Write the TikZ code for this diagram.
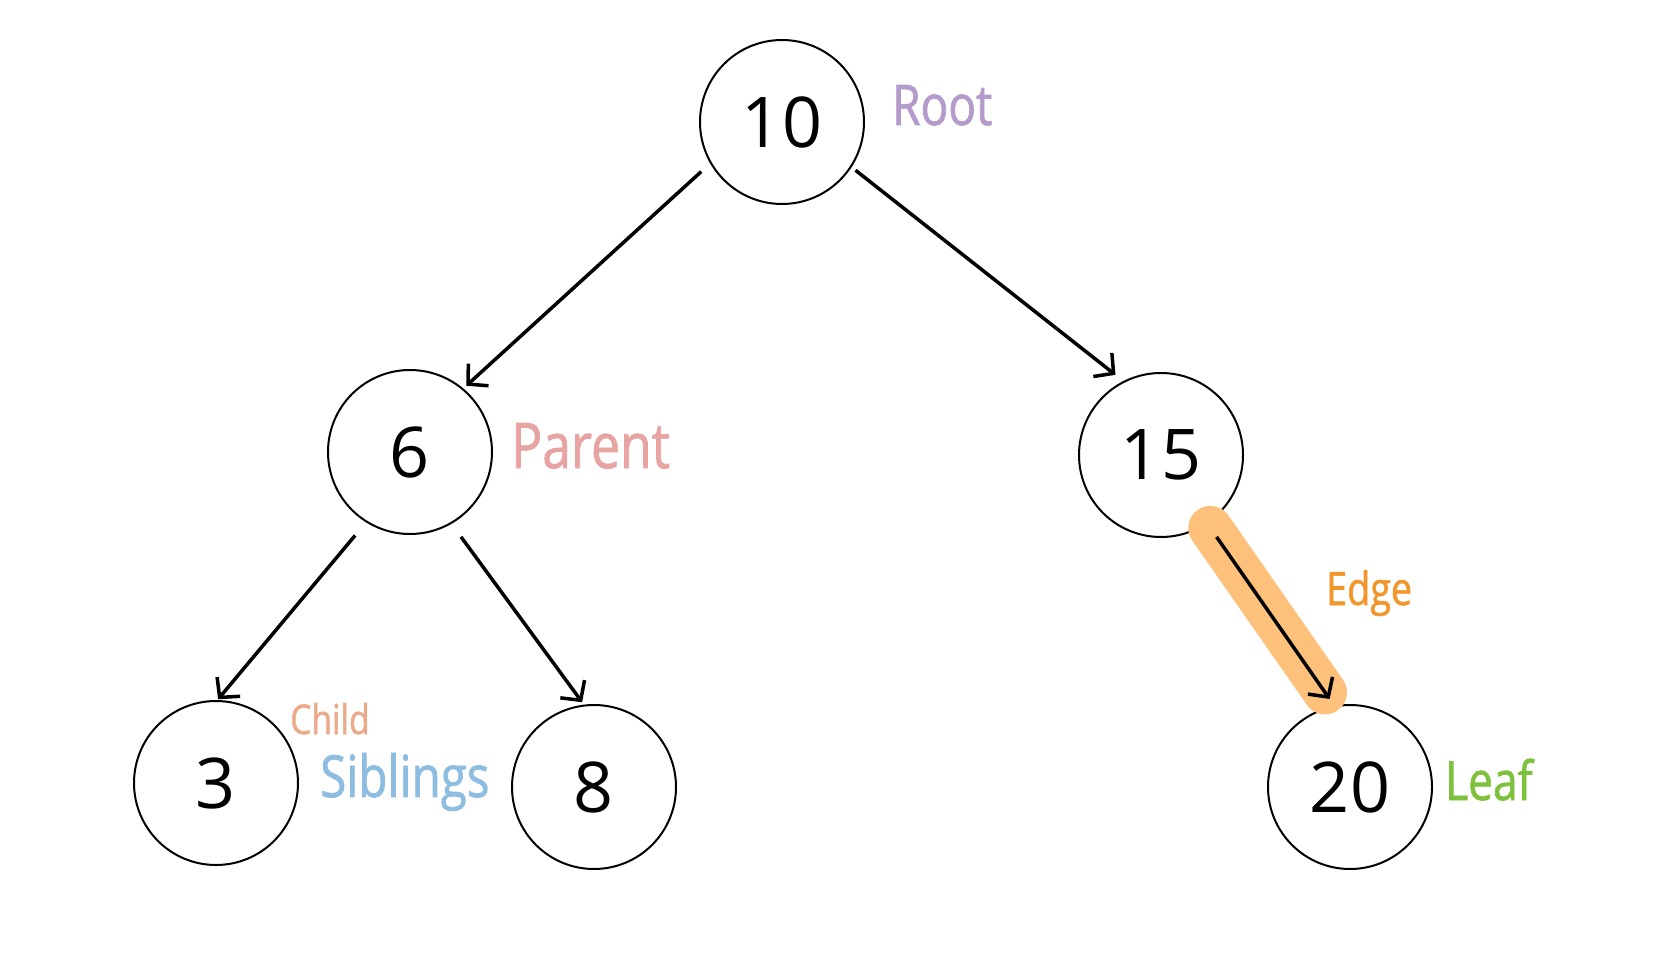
\documentclass[tikz,border=0pt]{standalone}
\usepackage{fontspec}
\setmainfont{Open Sans}
\newfontfamily\handfont[FakeStretch=0.82, FakeBold=1.2]{Open Sans}
\usetikzlibrary{arrows.meta}

\definecolor{rootc}{HTML}{B49BCB}
\definecolor{parentc}{HTML}{E8A3A3}
\definecolor{childc}{HTML}{EBAA8A}
\definecolor{sibc}{HTML}{8DBDE0}
\definecolor{edgec}{HTML}{F2962B}
\definecolor{leafc}{HTML}{7DC13C}
\definecolor{hlc}{HTML}{FDC17C}

\tikzset{
  tnode/.style={circle, draw, line width=2pt, minimum size=164pt, inner sep=0pt,
                font=\fontsize{70}{84}\selectfont},
  tedge/.style={line width=3.5pt,
                -{Straight Barb[length=14pt,width=30pt,line width=3.5pt]}},
  lbl/.style={anchor=base west, inner sep=0pt},
}

\begin{document}
\begin{tikzpicture}[x=1pt, y=-1pt]
  \useasboundingbox (0,0) rectangle (1667,973);

  % the tree
  \node[tnode] (n10) at (782,122) {10};
  \node[tnode] (n6)  at (410,452) {6};
  \node[tnode] (n15) at (1161,455) {15};
  \node[tnode] (n3)  at (216,783) {3};
  \node[tnode] (n8)  at (594,787) {8};
  \node[tnode] (n20) at (1350,787) {20};

  % highlight behind the marked edge
  \draw[hlc, line width=44pt, line cap=round, shorten <=5pt, shorten >=16pt]
    (n15.304) -- (n20.101);

  \draw[tedge, shorten <=12pt, shorten >=4pt] (n10.210) -- (n6.50);
  \draw[tedge, shorten <=5pt, shorten >=10pt] (n10.327) -- (n15.117);
  \draw[tedge, shorten <=17pt, shorten >=1pt] (n6.238) -- (n3.89);
  \draw[tedge, shorten <=16pt, shorten >=3pt] (n6.300) -- (n8.97);
  \draw[tedge, shorten <=16pt, shorten >=8pt] (n15.304) -- (n20.101);

  % names of the parts
  \node[lbl, text=rootc, font=\handfont\fontsize{56}{60}\selectfont] (lroot)
    at ([xshift=27pt, yshift=-3pt]n10.east) {Root};
  \node[lbl, text=parentc, font=\handfont\fontsize{63}{68}\selectfont] (lparent)
    at ([xshift=18pt, yshift=-16pt]n6.east) {Parent};
  \node[lbl, text=childc, font=\handfont\fontsize{41}{46}\selectfont] (lchild)
    at ([xshift=-9pt, yshift=49pt]n3.east) {Child};
  \node[lbl, text=sibc, font=\handfont\fontsize{58}{62}\selectfont] (lsib)
    at ([xshift=21pt, yshift=-14pt]n3.east) {Siblings};
  \node[lbl, text=edgec, font=\handfont\fontsize{46}{50}\selectfont] (ledge)
    at ([xshift=-24pt, yshift=99pt]n20.north) {Edge};
  \node[lbl, text=leafc, font=\handfont\fontsize{54}{58}\selectfont] (lleaf)
    at ([xshift=12pt, yshift=-13pt]n20.east) {Leaf};
\end{tikzpicture}
\end{document}
